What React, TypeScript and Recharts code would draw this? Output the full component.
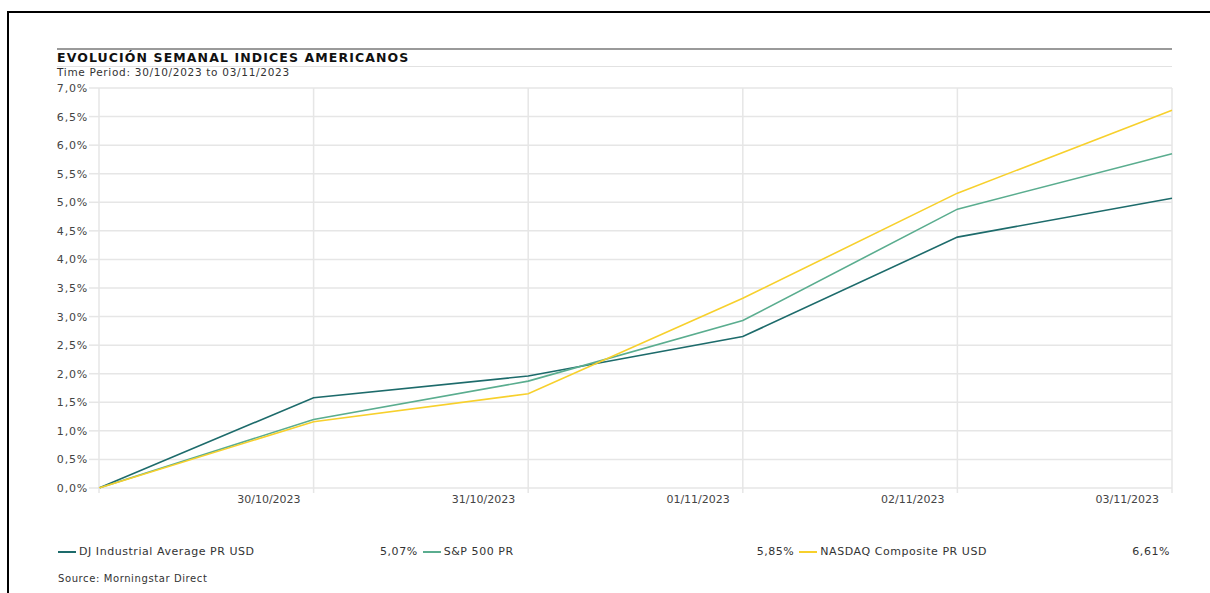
import React from "react";
import { LineChart, Line, XAxis, YAxis, CartesianGrid } from "recharts";

const dates = ["", "30/10/2023", "31/10/2023", "01/11/2023", "02/11/2023", "03/11/2023"];
const djValues = [0, 1.58, 1.96, 2.65, 4.39, 5.07];
const spValues = [0, 1.2, 1.87, 2.93, 4.88, 5.85];
const nasdaqValues = [0, 1.16, 1.65, 3.32, 5.16, 6.61];
const yTicks = [0, 0.5, 1, 1.5, 2, 2.5, 3, 3.5, 4, 4.5, 5, 5.5, 6, 6.5, 7];

const seriesInfo = [
  { key: "dj", name: "DJ Industrial Average PR USD", color: "#1d6b6b", last: "5,07%" },
  { key: "sp", name: "S&P 500 PR", color: "#5aad8f", last: "5,85%" },
  { key: "nasdaq", name: "NASDAQ Composite PR USD", color: "#f7d02c", last: "6,61%" },
];

const data = dates.map((d, i) => ({
  date: d,
  dj: djValues[i],
  sp: spValues[i],
  nasdaq: nasdaqValues[i],
}));

const FONT = "'DejaVu Sans', Verdana, sans-serif";
const GRID = "#e6e6e6";

const pct = (v: number) => v.toFixed(1).replace(".", ",") + "%";

const XTick = (props: any) => {
  const { x, y, payload } = props;
  return (
    <text x={x - 13} y={y + 8} textAnchor="end" fontSize={11} fill="#444" fontFamily={FONT}>
      {payload.value}
    </text>
  );
};

const YTick = (props: any) => {
  const { x, y, payload } = props;
  return (
    <text
      x={x}
      y={y + 4}
      textAnchor="end"
      fontSize={11}
      fill="#444"
      fontFamily={FONT}
      style={{ letterSpacing: 0.8 }}
    >
      {pct(payload.value)}
    </text>
  );
};

export default function App() {
  return (
    <div
      style={{
        position: "absolute",
        left: 0,
        top: 0,
        width: 1210,
        height: 593,
        background: "#fff",
        overflow: "hidden",
        fontFamily: FONT,
      }}
    >
      {/* frame */}
      <div style={{ position: "absolute", left: 8, top: 11, width: 1210, height: 2, background: "#000" }} />
      <div style={{ position: "absolute", left: 7, top: 11, width: 2, height: 600, background: "#000" }} />

      {/* header */}
      <div style={{ position: "absolute", left: 57, top: 48, width: 1115, height: 2, background: "#9a9a9a" }} />
      <div
        style={{
          position: "absolute",
          left: 57,
          top: 50,
          fontSize: 12.5,
          letterSpacing: 1.1,
          fontWeight: "bold",
          color: "#111",
          whiteSpace: "nowrap",
        }}
      >
        EVOLUCIÓN SEMANAL INDICES AMERICANOS
      </div>
      <div style={{ position: "absolute", left: 57, top: 66, width: 1115, height: 1, background: "#e2e2e2" }} />
      <div
        style={{
          position: "absolute",
          left: 57,
          top: 66,
          fontSize: 10.5,
          letterSpacing: 0.7,
          color: "#333",
          whiteSpace: "nowrap",
        }}
      >
        Time Period: 30/10/2023 to 03/11/2023
      </div>

      {/* chart */}
      <div style={{ position: "absolute", left: 0, top: 80 }}>
        <LineChart width={1210} height={430} data={data} margin={{ top: 8, right: 38, bottom: 0, left: 0 }}>
          <CartesianGrid stroke={GRID} strokeWidth={1.5} />
          <XAxis
            dataKey="date"
            height={22}
            axisLine={false}
            tickLine={{ stroke: GRID, strokeWidth: 1.5 }}
            tickSize={5}
            tick={<XTick />}
            interval={0}
          />
          <YAxis
            width={99}
            domain={[0, 7]}
            ticks={yTicks}
            axisLine={false}
            tickLine={{ stroke: GRID, strokeWidth: 1.5 }}
            tickSize={10}
            tickMargin={1}
            tick={<YTick />}
            interval={0}
          />
          {seriesInfo.map((s) => (
            <Line
              key={s.key}
              dataKey={s.key}
              name={s.name}
              type="linear"
              stroke={s.color}
              strokeWidth={1.6}
              dot={false}
              isAnimationActive={false}
            />
          ))}
        </LineChart>
      </div>

      {/* legend */}
      <div
        style={{
          position: "absolute",
          left: 58,
          top: 545,
          width: 1112,
          display: "flex",
          fontSize: 11,
          letterSpacing: 0.55,
          color: "#333",
        }}
      >
        {seriesInfo.map((s, i) => (
          <div
            key={s.key}
            style={{
              display: "flex",
              alignItems: "center",
              width: i === 0 ? 361 : i === 1 ? 376 : 375,
              marginLeft: i === 0 ? 0 : 2,
            }}
          >
            <span style={{ display: "inline-block", width: 18, height: 2, background: s.color, marginRight: 3, marginLeft: i === 0 ? 0 : 3 }} />
            <span style={{ flex: 1, whiteSpace: "nowrap" }}>{s.name}</span>
            <span>{s.last}</span>
          </div>
        ))}
      </div>

      <div style={{ position: "absolute", left: 58, top: 573, fontSize: 10, letterSpacing: 0.6, color: "#333" }}>
        Source: Morningstar Direct
      </div>
    </div>
  );
}
